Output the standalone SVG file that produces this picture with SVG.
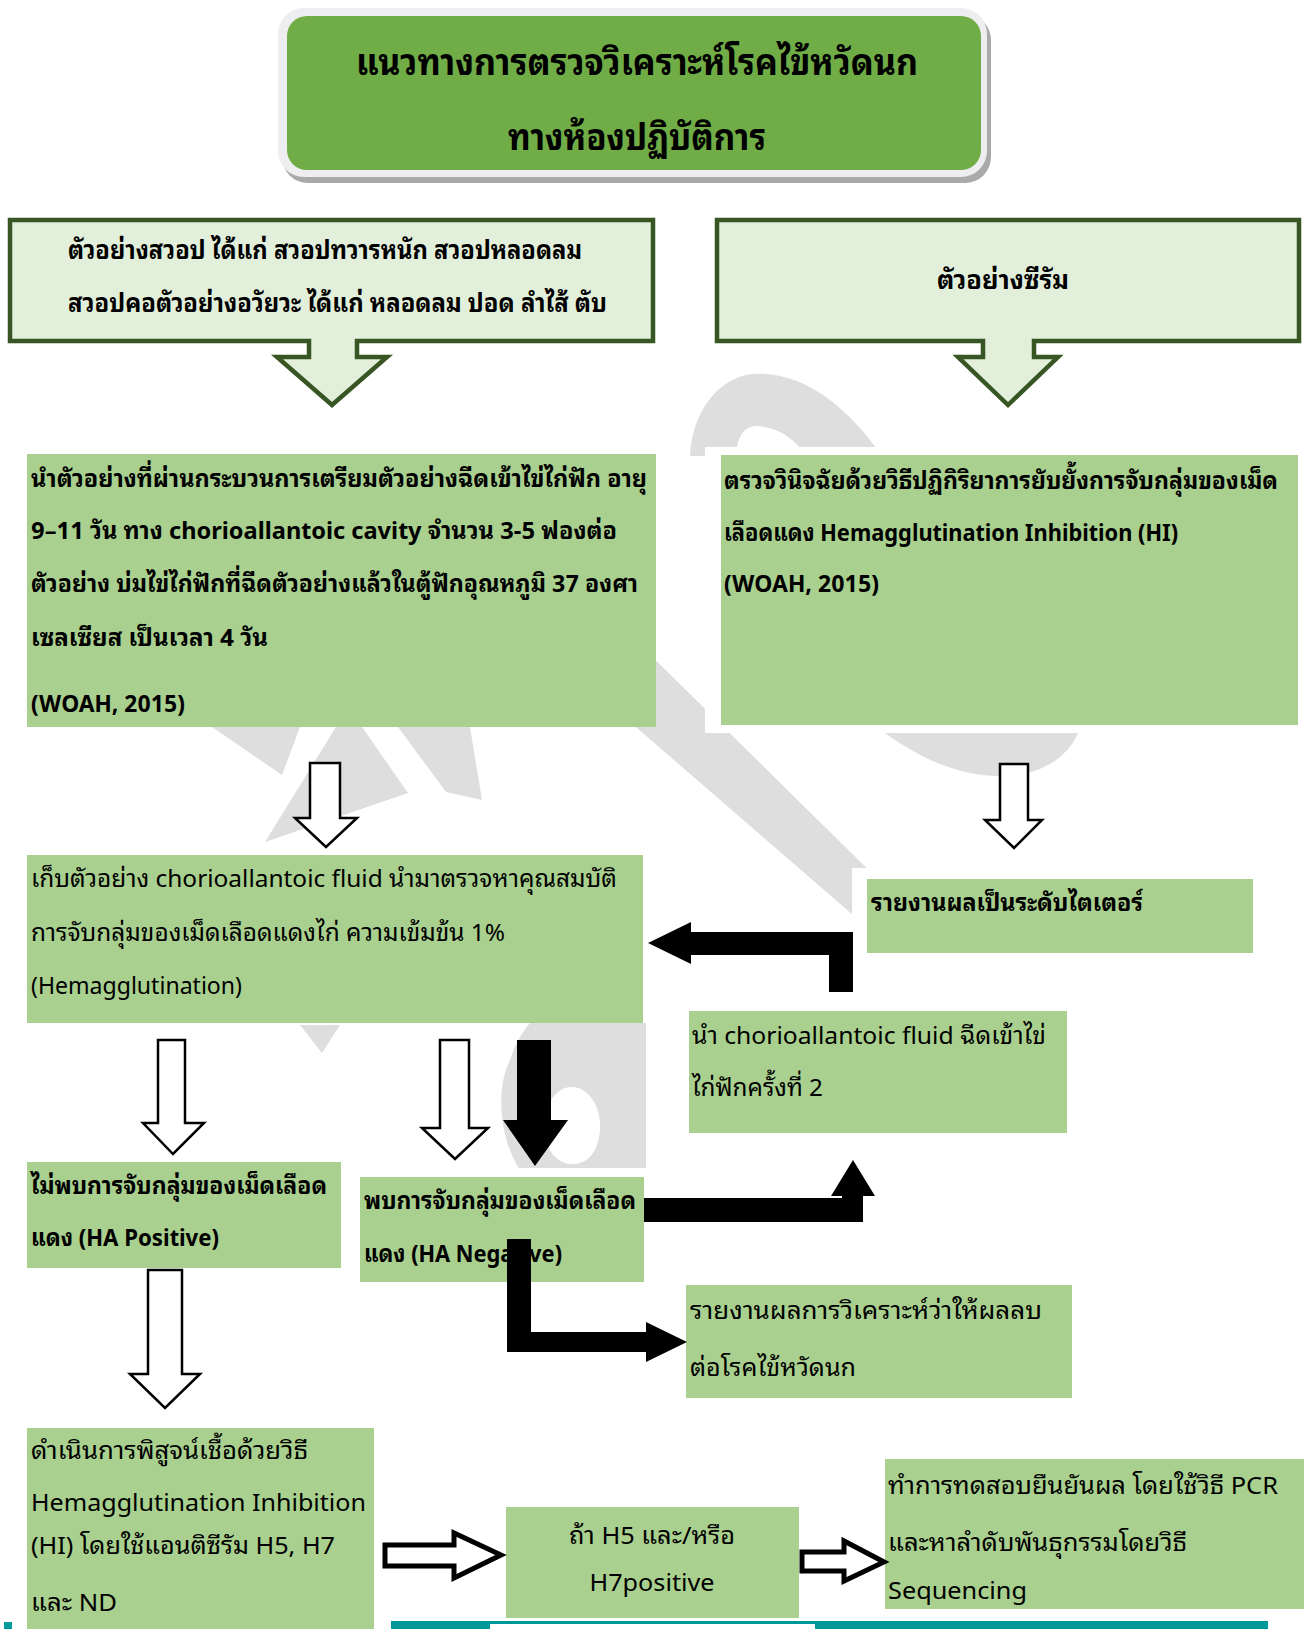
<svg xmlns="http://www.w3.org/2000/svg" width="1304" height="1629" viewBox="0 0 1304 1629">
  <defs>
    <style>
      text { font-family: "Noto Sans Thai Looped", "Noto Serif Thai", "Noto Sans Thai", "Noto Sans", "Noto Sans CJK SC", sans-serif; fill: #000; }
      .ttl { font-size: 36px; font-weight: bold; }
      .b26 { font-size: 26px; font-weight: bold; }
      .b24 { font-size: 24px; font-weight: bold; }
      .n24 { font-size: 24px; font-weight: normal; }
      .wm { fill: #dedede; }
      .box { fill: #a9d08e; }
      .src { fill: #e2efda; stroke: #375623; stroke-width: 4.5; }
      .hollow { fill: #fff; stroke: #000; stroke-width: 2.5; stroke-linejoin: miter; }
      .hollow-thick { fill: #fff; stroke: #000; stroke-width: 5; stroke-linejoin: miter; }
      .solid { fill: #000; }
    </style>
  </defs>

  <rect width="1304" height="1629" fill="#fff"/>

  <!-- faint background emblem -->
  <g id="emblem">
    <path class="wm" d="M690,456 C692,412 718,378 752,374 C805,370 850,410 882,456 L806,456 C796,440 779,427 757,426 C742,426 737,440 736,456 Z"/>
    <polygon class="wm" points="443,560 554,560 960,960 905,960"/>
    <path class="wm" d="M885,733 C925,762 965,777 1003,776 C1042,775 1068,757 1078,733 Z"/>
    <path class="wm" fill-rule="evenodd" d="M530,1023 L646,1023 L646,1170 L520,1170 C500,1140 495,1090 510,1060 C515,1045 522,1032 530,1023 Z M572,1087 C590,1087 602,1110 600,1130 C598,1155 585,1166 568,1164 C550,1160 543,1140 545,1120 C547,1100 558,1087 572,1087 Z"/>
    <polygon class="wm" points="300,1025 340,1025 322,1053"/>
    <polygon class="wm" points="212,727 300,727 282,775"/>
    <polygon class="wm" points="336,727 362,727 408,793 265,842"/>
    <polygon class="wm" points="398,727 470,727 482,800 446,792"/>
  </g>

  <!-- white margins behind some boxes -->
  <rect x="705" y="447" width="599" height="286" fill="#fff"/>
  <rect x="852" y="868" width="416" height="97" fill="#fff"/>
  <rect x="352" y="1168" width="300" height="120" fill="#fff"/>

  <!-- heading -->
  <g id="title">
    <rect x="282" y="14" width="709" height="169" rx="26" fill="#a9a9a9"/>
    <rect x="278" y="8" width="709" height="169" rx="26" fill="#eeeef0"/>
    <rect x="287" y="16" width="694" height="154" rx="20" fill="#70ad47"/>
    <text class="ttl" x="356" y="75" textLength="562" lengthAdjust="spacingAndGlyphs">แนวทางการตรวจวิเคราะห์โรคไข้หวัดนก</text>
    <text class="ttl" x="508" y="150" textLength="258" lengthAdjust="spacingAndGlyphs">ทางห้องปฏิบัติการ</text>
  </g>

  <!-- specimen sources -->
  <g id="swab">
    <path class="src" d="M10,220 H653 V341 H357 V357 H387 L332,405 L277,357 H309 V341 H10 Z"/>
    <text class="b26" x="68" y="259" textLength="514" lengthAdjust="spacingAndGlyphs">ตัวอย่างสวอป ได้แก่ สวอปทวารหนัก สวอปหลอดลม</text>
    <text class="b26" x="68" y="312" textLength="539" lengthAdjust="spacingAndGlyphs">สวอปคอตัวอย่างอวัยวะ ได้แก่ หลอดลม ปอด ลำไส้ ตับ</text>
  </g>
  <g id="serum">
    <path class="src" d="M717,220 H1299 V341 H1034 V357 H1058 L1008,405 L958,357 H983 V341 H717 Z"/>
    <text class="b26" x="937" y="289" textLength="132" lengthAdjust="spacingAndGlyphs">ตัวอย่างซีรัม</text>
  </g>

  <!-- process boxes -->
  <g id="inoculate">
    <rect class="box" x="27" y="454" width="629" height="273"/>
    <text class="b24" x="31" y="487" textLength="616" lengthAdjust="spacingAndGlyphs">นำตัวอย่างที่ผ่านกระบวนการเตรียมตัวอย่างฉีดเข้าไข่ไก่ฟัก อายุ</text>
    <text class="b24" x="31" y="539" textLength="586" lengthAdjust="spacingAndGlyphs">9–11 วัน ทาง chorioallantoic cavity จำนวน 3-5 ฟองต่อ</text>
    <text class="b24" x="31" y="592" textLength="607" lengthAdjust="spacingAndGlyphs">ตัวอย่าง บ่มไข่ไก่ฟักที่ฉีดตัวอย่างแล้วในตู้ฟักอุณหภูมิ 37 องศา</text>
    <text class="b24" x="31" y="646" textLength="237" lengthAdjust="spacingAndGlyphs">เซลเซียส เป็นเวลา 4 วัน</text>
    <text class="b24" x="31" y="712" textLength="154" lengthAdjust="spacingAndGlyphs">(WOAH, 2015)</text>
  </g>
  <g id="hi-test">
    <rect class="box" x="721" y="455" width="577" height="270"/>
    <text class="b24" x="724" y="489" textLength="554" lengthAdjust="spacingAndGlyphs">ตรวจวินิจฉัยด้วยวิธีปฏิกิริยาการยับยั้งการจับกลุ่มของเม็ด</text>
    <text class="b24" x="724" y="541" textLength="454" lengthAdjust="spacingAndGlyphs">เลือดแดง Hemagglutination Inhibition (HI)</text>
    <text class="b24" x="724" y="592" textLength="155" lengthAdjust="spacingAndGlyphs">(WOAH, 2015)</text>
  </g>
  <g id="ha-test">
    <rect class="box" x="27" y="855" width="616" height="168"/>
    <text class="n24" x="31" y="887" textLength="586" lengthAdjust="spacingAndGlyphs">เก็บตัวอย่าง chorioallantoic fluid นำมาตรวจหาคุณสมบัติ</text>
    <text class="n24" x="31" y="941" textLength="474" lengthAdjust="spacingAndGlyphs">การจับกลุ่มของเม็ดเลือดแดงไก่ ความเข้มข้น 1%</text>
    <text class="n24" x="31" y="994" textLength="211" lengthAdjust="spacingAndGlyphs">(Hemagglutination)</text>
  </g>
  <g id="titer">
    <rect class="box" x="867" y="879" width="386" height="74"/>
    <text class="b24" x="871" y="911" textLength="272" lengthAdjust="spacingAndGlyphs">รายงานผลเป็นระดับไตเตอร์</text>
  </g>
  <g id="second-pass">
    <rect class="box" x="689" y="1011" width="378" height="122"/>
    <text class="n24" x="692" y="1044" textLength="354" lengthAdjust="spacingAndGlyphs">นำ chorioallantoic fluid ฉีดเข้าไข่</text>
    <text class="n24" x="692" y="1096" textLength="131" lengthAdjust="spacingAndGlyphs">ไก่ฟักครั้งที่ 2</text>
  </g>
  <g id="ha-positive">
    <rect class="box" x="27" y="1162" width="314" height="106"/>
    <text class="b24" x="31" y="1194" textLength="296" lengthAdjust="spacingAndGlyphs">ไม่พบการจับกลุ่มของเม็ดเลือด</text>
    <text class="b24" x="31" y="1246" textLength="188" lengthAdjust="spacingAndGlyphs">แดง (HA Positive)</text>
  </g>
  <g id="ha-negative">
    <rect class="box" x="360" y="1177" width="284" height="105"/>
    <text class="b24" x="364" y="1209" textLength="272" lengthAdjust="spacingAndGlyphs">พบการจับกลุ่มของเม็ดเลือด</text>
    <text class="b24" x="364" y="1262" textLength="198" lengthAdjust="spacingAndGlyphs">แดง (HA Negative)</text>
  </g>
  <g id="report-negative">
    <rect class="box" x="686" y="1285" width="386" height="113"/>
    <text class="n24" x="690" y="1319" textLength="352" lengthAdjust="spacingAndGlyphs">รายงานผลการวิเคราะห์ว่าให้ผลลบ</text>
    <text class="n24" x="690" y="1376" textLength="166" lengthAdjust="spacingAndGlyphs">ต่อโรคไข้หวัดนก</text>
  </g>
  <g id="subtype">
    <rect class="box" x="27" y="1428" width="347" height="201"/>
    <text class="n24" x="31" y="1459" textLength="277" lengthAdjust="spacingAndGlyphs">ดำเนินการพิสูจน์เชื้อด้วยวิธี</text>
    <text class="n24" x="31" y="1511" textLength="335" lengthAdjust="spacingAndGlyphs">Hemagglutination Inhibition</text>
    <text class="n24" x="31" y="1554" textLength="304" lengthAdjust="spacingAndGlyphs">(HI) โดยใช้แอนติซีรัม H5, H7</text>
    <text class="n24" x="31" y="1611" textLength="86" lengthAdjust="spacingAndGlyphs">และ ND</text>
  </g>
  <g id="h5h7">
    <rect class="box" x="506" y="1507" width="293" height="111"/>
    <text class="n24" x="652" y="1544" text-anchor="middle" textLength="166" lengthAdjust="spacingAndGlyphs">ถ้า H5 และ/หรือ</text>
    <text class="n24" x="652" y="1591" text-anchor="middle" textLength="125" lengthAdjust="spacingAndGlyphs">H7positive</text>
  </g>
  <g id="confirm">
    <rect class="box" x="885" y="1459" width="419" height="150"/>
    <text class="n24" x="888" y="1494" textLength="390" lengthAdjust="spacingAndGlyphs">ทำการทดสอบยืนยันผล โดยใช้วิธี PCR</text>
    <text class="n24" x="888" y="1551" textLength="299" lengthAdjust="spacingAndGlyphs">และหาลำดับพันธุกรรมโดยวิธี</text>
    <text class="n24" x="888" y="1599" textLength="139" lengthAdjust="spacingAndGlyphs">Sequencing</text>
  </g>

  <!-- connectors -->
  <g id="connectors">
    <path class="hollow" d="M310,763 H340 V818 H357 L326,847 L295,818 H310 Z"/>
    <path class="hollow" d="M1000,764 H1028 V820 H1042 L1014,848 L985,820 H1000 Z"/>
    <path class="hollow" d="M158,1040 H185 V1123 H204 L173,1154 L143,1123 H158 Z"/>
    <path class="hollow" d="M440,1040 H469 V1128 H488 L455,1159 L422,1128 H440 Z"/>
    <path class="solid" d="M517,1040 H551 V1120 H568 L535,1166 L503,1120 H517 Z"/>
    <path class="hollow" d="M148,1270 H182 V1374 H200 L165,1408 L130,1374 H148 Z"/>
    <path class="solid" d="M691,932 H853 V992 H829 V955 H691 V964 L648,943 L691,922 Z"/>
    <path class="solid" d="M644,1198 H842 V1196 H831 L853,1160 L875,1196 H863 V1222 H644 Z"/>
    <path class="solid" d="M507,1239 H531 V1332 H646 V1322 L687,1342 L646,1362 V1352 H507 Z"/>
    <path class="hollow-thick" d="M385,1545 H454 V1533 L501,1555 L454,1578 V1566 H385 Z"/>
    <path class="hollow-thick" d="M802,1552 H844 V1541 L884,1562 L844,1581 V1571 H802 Z"/>
  </g>

  <!-- page footer rule -->
  <rect x="4" y="1622" width="8" height="7" fill="#009999"/>
  <rect x="391" y="1621" width="877" height="8" fill="#009999"/>
  <rect x="490" y="1624" width="325" height="5" fill="#fff"/>
</svg>
